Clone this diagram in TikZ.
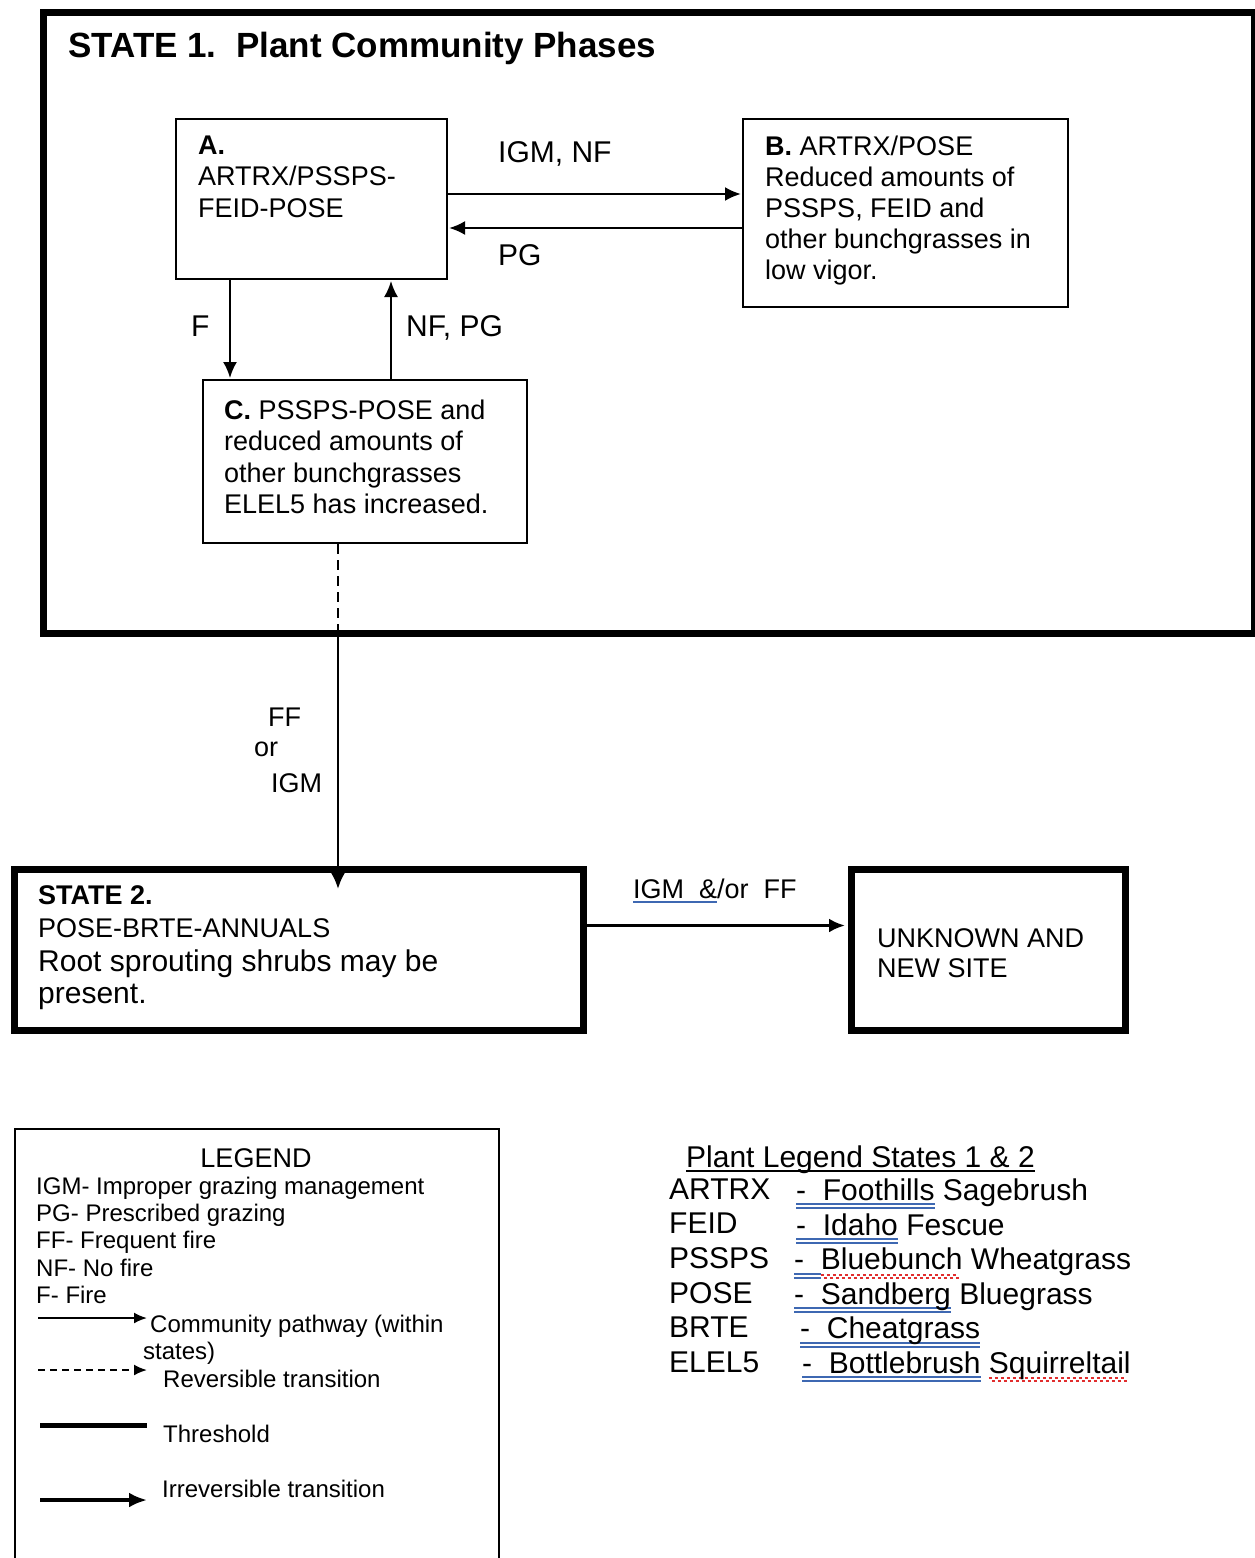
\documentclass[tikz,border=0pt]{standalone}
\usepackage{fontspec}
\setmainfont{Liberation Sans}
\usepackage{tikz}
\usetikzlibrary{arrows.meta,positioning}

\definecolor{spellblue}{RGB}{62,104,178}
\definecolor{spellred}{RGB}{225,45,45}

\newsavebox{\ulbox}
\newcommand{\fs}[2]{\fontsize{#1}{#2}\selectfont}
\newcommand{\plainul}[1]{\sbox\ulbox{#1}\rlap{\rule[-5pt]{\wd\ulbox}{2pt}}\usebox\ulbox}
\newcommand{\linkul}[1]{\sbox\ulbox{#1}\rlap{\color{spellblue}\rule[-5pt]{\wd\ulbox}{2pt}}\usebox\ulbox}
\newcommand{\spellul}[1]{\sbox\ulbox{#1}\rlap{\color{spellblue}\rule[-5pt]{\wd\ulbox}{2pt}\llap{\rule[-9pt]{\wd\ulbox}{2pt}}}\usebox\ulbox}
\newcommand{\spellwave}[1]{\sbox\ulbox{#1}\rlap{\color{spellred}\hbox to \wd\ulbox{\leaders\hbox{\vrule height -4pt depth 6pt width 3pt\vrule height -7pt depth 9pt width 3pt}\hfill}}\usebox\ulbox}

\begin{document}
\begin{tikzpicture}[x=1pt,y=-1pt,shorten >=1pt,>={Latex[length=16pt,width=14pt]}]
  \tikzstyle{phase}=[draw,line width=2pt,inner sep=0pt,anchor=north west]
  \tikzstyle{statebox}=[draw,line width=7pt,inner sep=0pt,anchor=north west]
  \tikzstyle{txt}=[inner sep=0pt,anchor=north west,align=left]
  \tikzstyle{lbl}=[inner sep=0pt,anchor=base west]
  \tikzstyle{pathway}=[->,line width=2.5pt]

  \useasboundingbox (0,0) rectangle (1255,1558);
  \clip (0,0) rectangle (1255,1558);
  \fill[white] (0,0) rectangle (1255,1558);

  % state 1 and its phases
  \node[statebox,minimum width=1211pt,minimum height=621pt] (s1) at (39.5,8.5) {};
  \node[lbl,font=\fs{35}{40}\bfseries] (title) at (68,57) {STATE 1.\ \ Plant Community Phases};

  \node[phase,minimum width=271pt,minimum height=160pt] (a) at (175,118) {};
  \node[phase,minimum width=325pt,minimum height=188pt] (b) at (742,118) {};
  \node[phase,minimum width=324pt,minimum height=163pt] (c) at (202,379) {};

  \node[txt,font=\fs{27}{31.5}] (atxt) at (198,135.7) {\textbf{A.}\\ARTRX/PSSPS-\\FEID-POSE};
  \node[txt,font=\fs{27}{31}] (btxt) at (765,135.7) {\textbf{B.} ARTRX/POSE\\Reduced amounts of\\PSSPS, FEID and\\other bunchgrasses in\\low vigor.};
  \node[txt,font=\fs{27}{31.5}] (ctxt) at (224,399.7) {\textbf{C.} PSSPS-POSE and\\reduced amounts of\\other bunchgrasses\\ELEL5 has increased.};

  \coordinate (ab1) at ([yshift=5pt]a.east);
  \coordinate (ab2) at ([yshift=-29pt]a.east);
  \path[pathway]
  (ab1)         edge (ab1 -| b.west)
  (ab2 -| b.west) edge (ab2);
  \node[lbl,font=\fs{30}{34}] (l1) at (498,162) {IGM, NF};
  \node[lbl,font=\fs{30}{34}] (l2) at (498,265) {PG};

  \coordinate (ac) at ([xshift=55pt]a.south west);
  \coordinate (ca) at ([xshift=216pt]a.south west);
  \path[->,line width=2pt]
  (ac)         edge (ac |- c.north)
  (ca |- c.north) edge (ca);
  \node[lbl,font=\fs{30}{34}] (l3) at (191,336) {F};
  \node[lbl,font=\fs{30}{34}] (l4) at (406,336) {NF, PG};

  % state 2 and the unknown site
  \node[statebox,minimum width=569pt,minimum height=161pt] (s2) at (11,866) {};
  \node[statebox,minimum width=274pt,minimum height=161pt] (u) at (848,866) {};
  \node[txt,font=\fs{27}{33}] (s2a) at (38,885.7) {\textbf{STATE 2.}\\POSE-BRTE-ANNUALS};
  \node[txt,font=\fs{30}{32}] (s2b) at (38,949.5) {Root sprouting shrubs may be\\present.};
  \node[txt,font=\fs{27}{30}] (utxt) at (877,928.7) {UNKNOWN AND\\NEW SITE};

  \coordinate (drop) at ([xshift=136pt]c.south west);
  \path (drop |- s2.north) ++(0,24) coordinate (tip);
  \draw[line width=2pt,dash pattern=on 10pt off 6pt,shorten >=0pt] (drop) -- (drop |- s1.south);
  \draw[pathway] (drop |- s1.south) -- (tip);
  \node[lbl,font=\fs{27}{30}] (l5) at (268,726) {FF};
  \node[lbl,font=\fs{27}{30}] (l6) at (254,756) {or};
  \node[lbl,font=\fs{27}{30}] (l7) at (271,792) {IGM};

  \coordinate (su) at ([yshift=24.5pt]s2.east);
  \draw[pathway,line width=3pt,shorten >=3pt] (su) -- (su -| u.west);
  \node[lbl,font=\fs{27}{30}] (l8) at (633,898) {\linkul{IGM\ \ \&}/or\ \ FF};

  % legend
  \node[phase,minimum width=484pt,minimum height=500pt] (leg) at (14,1128) {};
  \node[anchor=base,inner sep=0pt,font=\fs{27}{30}] (legt) at (256,1167) {LEGEND};
  \node[txt,font=\fs{24}{27.25}] (legk) at (36,1176.8) {IGM- Improper grazing management\\PG- Prescribed grazing\\FF- Frequent fire\\NF- No fire\\F- Fire};
  \node[lbl,font=\fs{24}{27}] (kt1) at (150,1332) {Community pathway (within};
  \node[lbl,font=\fs{24}{27}] (kt2) at (143,1359) {states)};
  \node[lbl,font=\fs{24}{27}] (kt3) at (163,1387) {Reversible transition};
  \node[lbl,font=\fs{24}{27}] (kt4) at (163,1442) {Threshold};
  \node[lbl,font=\fs{24}{27}] (kt5) at (162,1497) {Irreversible transition};

  \coordinate (k1) at (38,1318);
  \coordinate (k2) at (38,1370);
  \coordinate (k3) at (40,1425);
  \coordinate (k4) at (40,1500);
  \draw[->,line width=2pt,shorten >=3pt,>={Latex[length=13pt,width=11pt]}] (k1) -- (k1 -| kt1.west);
  \draw[->,line width=2pt,dash pattern=on 7pt off 5pt,shorten >=16pt,>={Latex[length=13pt,width=11pt]}] (k2) -- (k2 -| kt3.west);
  \draw[line width=5pt,shorten >=16pt] (k3) -- (k3 -| kt4.west);
  \draw[->,line width=4pt,shorten >=15pt,>={Latex[length=18pt,width=15pt]}] (k4) -- (k4 -| kt5.west);

  % plant legend
  \node[lbl,font=\fs{30}{34}] (plt) at (686,1167) {\plainul{Plant Legend States 1 \& 2}};
  \node[txt,font=\fs{30}{34.6}] (codes) at (669,1178.5) {ARTRX\\FEID\\PSSPS\\POSE\\BRTE\\ELEL5};
  \node[txt,font=\fs{30}{34.6}] (names) at (794,1178.5) {%
    \hspace*{2pt}\spellul{-\ \ Foothills} Sagebrush\\
    \hspace*{2pt}\spellul{-\ \ Idaho} Fescue\\
    \spellul{-\ \ }\spellwave{Bluebunch} Wheatgrass\\
    \spellul{-\ \ Sandberg} Bluegrass\\
    \hspace*{6pt}\spellul{-\ \ Cheatgrass}\\
    \hspace*{8pt}\spellul{-\ \ Bottlebrush} \spellwave{Squirreltail}};
\end{tikzpicture}
\end{document}
